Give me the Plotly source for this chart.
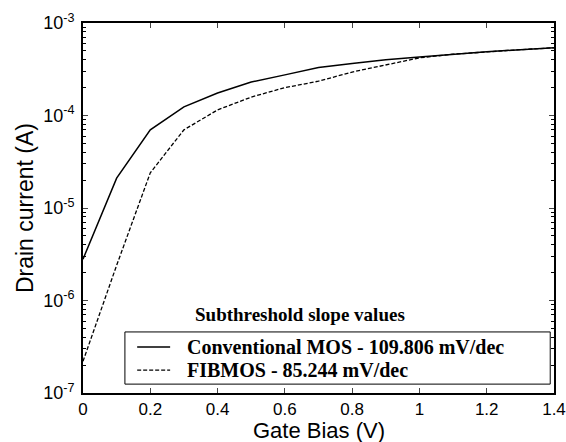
import plotly.graph_objects as go

gate_bias = [0.0, 0.1, 0.2, 0.3, 0.4, 0.5, 0.6, 0.7, 0.8, 0.9, 1.0, 1.1, 1.2, 1.3, 1.4]
conventional_mos = [2.8e-6, 2.1e-5, 7.0e-5, 1.24e-4, 1.75e-4, 2.3e-4, 2.75e-4, 3.3e-4, 3.65e-4, 4.0e-4,
                    4.3e-4, 4.6e-4, 4.9e-4, 5.15e-4, 5.4e-4]
fibmos = [2.2e-7, 2.4e-6, 2.4e-5, 7.0e-5, 1.15e-4, 1.58e-4, 2.0e-4, 2.35e-4, 2.95e-4, 3.5e-4,
          4.2e-4, 4.6e-4, 4.9e-4, 5.15e-4, 5.4e-4]
legend_names = ["Conventional MOS - 109.806 mV/dec", "FIBMOS - 85.244 mV/dec"]
legend_title = "Subthreshold slope values"
x_title = "Gate Bias (V)"
y_title = "Drain current (A)"
x_ticks = [0, 0.2, 0.4, 0.6, 0.8, 1, 1.2, 1.4]
x_ticktext = ["0", "0.2", "0.4", "0.6", "0.8", "1", "1.2", "1.4"]
y_ticks = [1e-7, 1e-6, 1e-5, 1e-4, 1e-3]
y_ticktext = ["10<sup>-7</sup>", "10<sup>-6</sup>", "10<sup>-5</sup>", "10<sup>-4</sup>", "10<sup>-3</sup>"]
minor_y = [m * d for d in y_ticks[:-1] for m in range(2, 10)]

serif = "Times New Roman, Liberation Serif, serif"
sans = "Arial, Liberation Sans, sans-serif"

line_styles = [dict(color="black", width=1.5), dict(color="black", width=1.3, dash="4px,2px")]

fig = go.Figure()
fig.add_trace(go.Scatter(x=gate_bias, y=conventional_mos, mode="lines", name=legend_names[0],
                         line=line_styles[0], showlegend=False))
fig.add_trace(go.Scatter(x=gate_bias, y=fibmos, mode="lines", name=legend_names[1],
                         line=line_styles[1], showlegend=False))

axis_font = dict(family=sans, size=18, color="black")
fig.update_layout(
    width=566, height=442,
    margin=dict(l=83, r=12, t=23, b=49),
    paper_bgcolor="white", plot_bgcolor="white",
    showlegend=False,
    xaxis=dict(
        range=[0, 1.4], tickvals=x_ticks, ticktext=x_ticktext, automargin=False,
        ticklabeloverflow="allow",
        ticks="inside", ticklen=5, mirror="ticks", showline=True, linecolor="black", linewidth=2,
        showgrid=False, zeroline=False, tickfont=dict(family=sans, size=17, color="black"),
    ),
    yaxis=dict(
        type="log", range=[-7, -3], tickvals=y_ticks, ticktext=y_ticktext, automargin=False,
        ticklabeloverflow="allow",
        ticks="inside", ticklen=5, mirror="ticks", showline=True, linecolor="black", linewidth=2,
        showgrid=False, zeroline=False, tickfont=axis_font, ticklabelstandoff=3,
        minor=dict(tickvals=minor_y, ticks="inside", ticklen=3, showgrid=False, tickcolor="black"),
    ),
)

# Axis titles
fig.add_annotation(text=x_title, xref="paper", yref="paper", x=0.5, y=-0.1,
                   xanchor="center", yanchor="middle", showarrow=False,
                   font=dict(family=sans, size=22, color="black"))
fig.add_annotation(text=y_title, xref="paper", yref="paper", x=-0.123, y=0.5, textangle=-90,
                   xanchor="center", yanchor="middle", showarrow=False,
                   font=dict(family=sans, size=23, color="black"))

# Legend box (manual, to match the reference's compact layout)
fig.add_shape(type="rect", xref="paper", yref="paper", x0=0.089, x1=0.992, y0=0.024, y1=0.165,
              line=dict(color="black", width=1), fillcolor="white", layer="above")
row_y = [0.124, 0.062]
for name, style, yy in zip(legend_names, line_styles, row_y):
    fig.add_shape(type="line", xref="paper", yref="paper", x0=0.115, x1=0.185, y0=yy, y1=yy,
                  line=style, layer="above")
    fig.add_annotation(text="<b>" + name + "</b>", xref="paper", yref="paper",
                       x=0.2166, y=yy, xanchor="left", yanchor="middle", showarrow=False,
                       font=dict(family=serif, size=20, color="black"))

fig.add_annotation(text="<b>" + legend_title + "</b>", xref="paper", yref="paper",
                   x=0.461, y=0.211, xanchor="center", yanchor="middle", showarrow=False,
                   font=dict(family=serif, size=19, color="black"))

fig.write_html("out.html", config={"displayModeBar": False},
               post_script="document.body.style.margin='0';document.body.style.overflow='hidden';")
